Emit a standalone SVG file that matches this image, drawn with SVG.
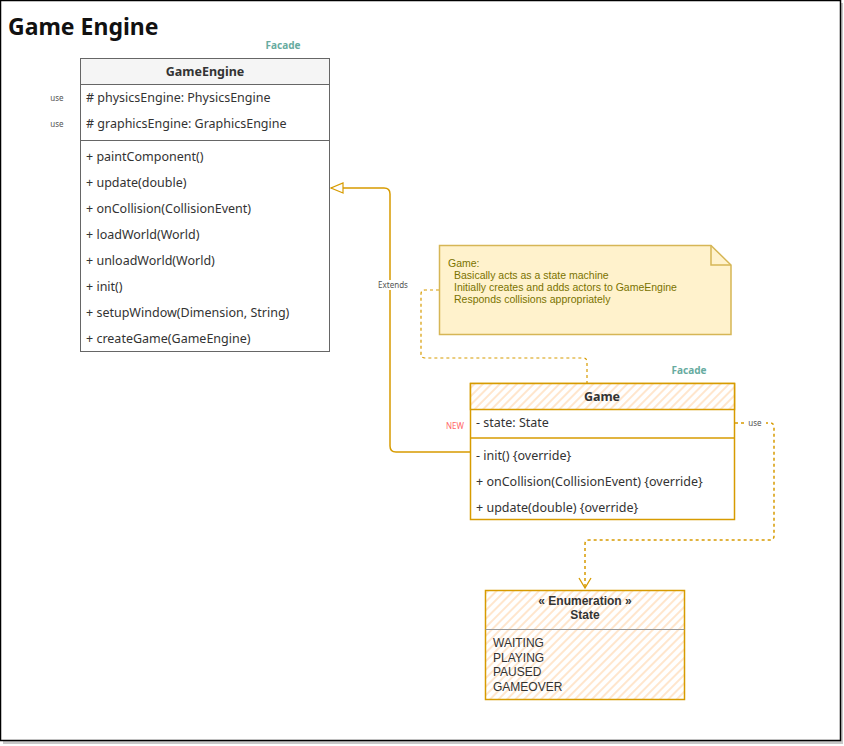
<svg xmlns="http://www.w3.org/2000/svg" width="844" height="746" viewBox="0 0 844 746">
<defs>
<pattern id="hatch" patternUnits="userSpaceOnUse" width="6" height="6" patternTransform="rotate(45)">
<rect width="6" height="6" fill="#ffffff"/>
<line x1="1" y1="0" x2="1" y2="6" stroke="#ffdcb8" stroke-width="1.4"/>
</pattern>
<marker id="tri" markerWidth="14" markerHeight="12" refX="13" refY="6" orient="auto" markerUnits="userSpaceOnUse">
<path d="M1,1 L13,6 L1,11 Z" fill="#ffffff" stroke="#d79b00" stroke-width="1.2"/>
</marker>
<marker id="open" markerWidth="14" markerHeight="14" refX="7" refY="12" orient="0" markerUnits="userSpaceOnUse">
<path d="M1,2 L7,12 L13,2" fill="none" stroke="#d79b00" stroke-width="1.3"/>
</marker>
</defs>
<style>
text{font-family:"Noto Sans","Open Sans","DejaVu Sans",sans-serif;}
.t{font-size:12.5px;fill:#333333;}
.h{font-size:12.5px;font-weight:bold;fill:#333333;}
.ls{font-family:"Liberation Sans",Arial,sans-serif;font-size:12px;}
.lbl{font-size:8px;fill:#555555;}
.fac{font-size:10px;font-weight:bold;fill:#67ab9f;}
.note{font-size:10.5px;fill:#7a7200;font-family:"Liberation Sans",Arial,sans-serif;}
.conn{fill:none;stroke:#d79b00;stroke-width:1.5;}
.dash{stroke-dasharray:3,3;}
</style>
<rect x="0" y="0" width="844" height="746" fill="#ffffff"/>
<rect x="3" y="3" width="840" height="741" fill="#c8c8c8"/>
<rect x="0.5" y="0.5" width="840" height="740" fill="#ffffff" stroke="#000000" stroke-width="1.5"/>
<text x="8" y="35" style="font-size:23px;font-weight:bold;fill:#111111;">Game Engine</text>

<g id="connectors">
<path class="conn" d="M470,452 L396,452 Q390,452 390,446 L390,194 Q390,188 384,188 L331,188" marker-end="url(#tri)"/>
<rect x="373" y="280" width="40" height="10" fill="#ffffff"/>
<text x="393" y="288" class="lbl" text-anchor="middle">Extends</text>
<path class="conn dash" d="M439,290 L425,290 Q421,290 421,294 L421,354 Q421,358 425,358 L583,358 Q587,358 587,362 L587,383" style="stroke-width:1.2"/>
<path class="conn dash" d="M735,423 L770,423 Q774,423 774,427 L774,536 Q774,540 770,540 L589,540 Q585,540 585,544 L585,588" marker-end="url(#open)"/>
<rect x="744" y="418" width="22" height="10" fill="#ffffff"/>
<text x="755" y="426" class="lbl" text-anchor="middle">use</text>
</g>

<g id="GameEngine">
<text x="283" y="49" class="fac" text-anchor="middle">Facade</text>
<rect x="80.5" y="58.5" width="249" height="293" style="fill:#ffffff;stroke:#666666;stroke-width:1"/>
<rect x="80.5" y="58.5" width="249" height="26" style="fill:#f5f5f5;stroke:#666666;stroke-width:1"/>
<text x="205" y="76" class="h" text-anchor="middle">GameEngine</text>
<line x1="80.5" y1="140.5" x2="329.5" y2="140.5" stroke="#666666"/>
<text x="86" y="102" class="t"># physicsEngine: PhysicsEngine</text>
<text x="86" y="128" class="t"># graphicsEngine: GraphicsEngine</text>
<text x="86" y="161" class="t">+ paintComponent()</text>
<text x="86" y="187" class="t">+ update(double)</text>
<text x="86" y="213" class="t">+ onCollision(CollisionEvent)</text>
<text x="86" y="239" class="t">+ loadWorld(World)</text>
<text x="86" y="265" class="t">+ unloadWorld(World)</text>
<text x="86" y="291" class="t">+ init()</text>
<text x="86" y="317" class="t">+ setupWindow(Dimension, String)</text>
<text x="86" y="343" class="t">+ createGame(GameEngine)</text>
<text x="57" y="101" class="lbl" text-anchor="middle">use</text>
<text x="57" y="127" class="lbl" text-anchor="middle">use</text>
</g>

<g id="Note">
<path d="M439.5,245.5 L711,245.5 L731,265 L731,334.5 L439.5,334.5 Z" fill="#fff2cc" stroke="#d6b656" stroke-width="1.5"/>
<path d="M711,245.5 L711,265 L731,265" fill="none" stroke="#d6b656" stroke-width="1.5"/>
<text x="448" y="267" class="note">Game:</text>
<text x="454" y="279" class="note">Basically acts as a state machine</text>
<text x="454" y="291" class="note">Initially creates and adds actors to GameEngine</text>
<text x="454" y="303" class="note">Responds collisions appropriately</text>
</g>

<g id="Game">
<text x="689" y="374" class="fac" text-anchor="middle">Facade</text>
<rect x="470.5" y="383.5" width="264" height="136" style="fill:#ffffff;stroke:#d79b00;stroke-width:1.5"/>
<rect x="470.5" y="383.5" width="264" height="26" style="fill:url(#hatch);stroke:#d79b00;stroke-width:1.5"/>
<text x="602" y="401" class="h" text-anchor="middle">Game</text>
<line x1="470.5" y1="438" x2="734.5" y2="438" stroke="#d79b00" stroke-width="1.5"/>
<text x="476" y="427" class="t">- state: State</text>
<text x="476" y="460" class="t">- init() {override}</text>
<text x="476" y="486" class="t">+ onCollision(CollisionEvent) {override}</text>
<text x="476" y="512" class="t">+ update(double) {override}</text>
<text x="455" y="429" style="font-size:8px;fill:#ff6666;" text-anchor="middle">NEW</text>
</g>

<g id="State">
<rect x="485.5" y="590.5" width="199" height="109" style="fill:url(#hatch);stroke:#d79b00;stroke-width:1.5"/>
<line x1="485.5" y1="629.5" x2="684.5" y2="629.5" stroke="#999999" stroke-width="1"/>
<text x="585" y="605" class="h ls" text-anchor="middle">« Enumeration »</text>
<text x="585" y="619" class="h ls" text-anchor="middle">State</text>
<text x="493" y="647" class="t ls">WAITING</text>
<text x="493" y="662" class="t ls">PLAYING</text>
<text x="493" y="676" class="t ls">PAUSED</text>
<text x="493" y="691" class="t ls">GAMEOVER</text>
</g>
</svg>
